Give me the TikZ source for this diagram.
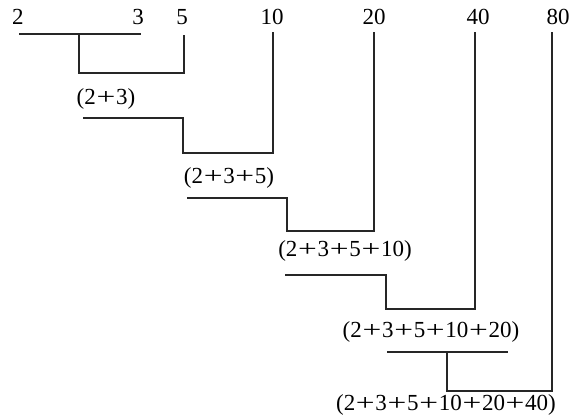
\documentclass[tikz,border=0pt]{standalone}
\usepackage{fontspec}
\setmainfont{Liberation Serif}
\newcommand\pl{\hspace{0.03em}\scalebox{1.45}[1.0]{+}\hspace{0.03em}}
\begin{document}
\begin{tikzpicture}[x=1pt,y=-1pt,
  lbl/.style={font=\fontsize{23}{27}\selectfont, inner sep=0pt, anchor=base},
  ln/.style={line width=1.1pt, draw=black!85}]
\useasboundingbox (0,0) rectangle (574,419);
% labels
\node[lbl] (n2)  at (18,25)  {2};
\node[lbl] (n3)  at (138,25) {3};
\node[lbl] (n5)  at (182,25) {5};
\node[lbl] (n10) at (272,25) {10};
\node[lbl] (n20) at (374,25) {20};
\node[lbl] (n40) at (478,25) {40};
\node[lbl] (n80) at (558,25) {80};
\node[lbl] (s1) at (106,105) {(2\pl3)};
\node[lbl] (s2) at (229,184) {(2\pl3\pl5)};
\node[lbl] (s3) at (345,257) {(2\pl3\pl5\pl10)};
\node[lbl] (s4) at (431,338) {(2\pl3\pl5\pl10\pl20)};
\node[lbl] (s5) at (446,411) {(2\pl3\pl5\pl10\pl20\pl40)};
% step 1
\coordinate (a0) at (19,34);  \coordinate (a1) at (141,34);
\coordinate (a2) at (79,34);  \coordinate (a3) at (79,73);
\coordinate (a4) at (184,73); \coordinate (a5) at (184,35);
\draw[ln] (a0) -- (a1);
\draw[ln] (a2) -- (a3) -- (a4) -- (a5);
% step 2
\coordinate (b0) at (83,118);  \coordinate (b1) at (183,118);
\coordinate (b2) at (183,153); \coordinate (b3) at (273,153);
\coordinate (b4) at (273,32);
\draw[ln] (b0) -- (b1) -- (b2) -- (b3) -- (b4);
% step 3
\coordinate (c0) at (187,198); \coordinate (c1) at (287,198);
\coordinate (c2) at (287,231); \coordinate (c3) at (374,231);
\coordinate (c4) at (374,32);
\draw[ln] (c0) -- (c1) -- (c2) -- (c3) -- (c4);
% step 4
\coordinate (d0) at (285,275); \coordinate (d1) at (386,275);
\coordinate (d2) at (386,309); \coordinate (d3) at (475,309);
\coordinate (d4) at (475,32);
\draw[ln] (d0) -- (d1) -- (d2) -- (d3) -- (d4);
% step 5
\coordinate (e0) at (387,352); \coordinate (e1) at (508,352);
\coordinate (e2) at (447,352); \coordinate (e3) at (447,391);
\coordinate (e4) at (552,391); \coordinate (e5) at (552,32);
\draw[ln] (e0) -- (e1);
\draw[ln] (e2) -- (e3) -- (e4) -- (e5);
\end{tikzpicture}
\end{document}
